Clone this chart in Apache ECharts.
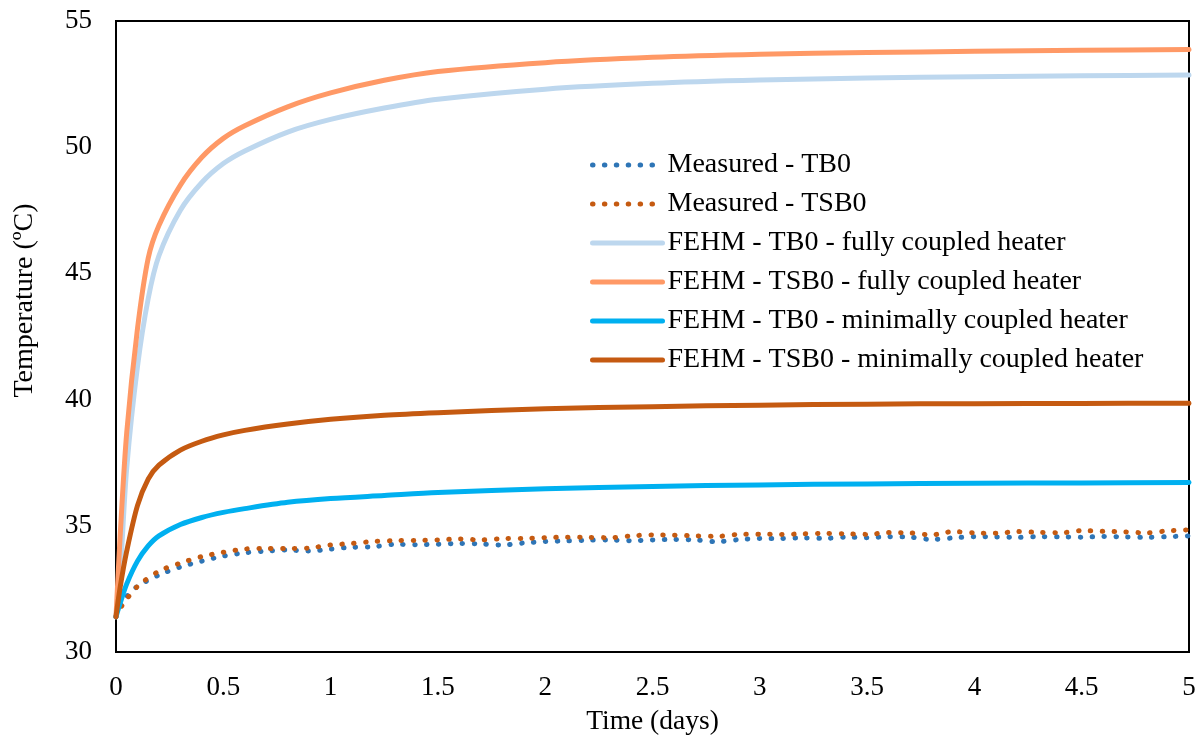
<!DOCTYPE html>
<html>
<head>
<meta charset="utf-8">
<script src="https://cdn.jsdelivr.net/npm/echarts@6/dist/echarts.min.js"></script>
<style>
html,body{margin:0;padding:0;background:#fff;}
#chart{width:1200px;height:740px;}
</style>
</head>
<body>
<div id="chart"></div>
<script>
// ---- data ----
const modelTime = [0, 0.02, 0.05, 0.1, 0.15, 0.2, 0.3, 0.4, 0.5, 0.6, 0.8, 1.0, 1.25, 1.5, 2.0, 2.5, 3.0, 3.5, 4.0, 4.5, 5.0];
const fehmTB0Full = [31.4, 33.2, 37.3, 41.3, 44.0, 45.7, 47.5, 48.6, 49.35, 49.85, 50.6, 51.1, 51.55, 51.9, 52.3, 52.53, 52.66, 52.74, 52.79, 52.83, 52.86];
const fehmTSB0Full = [31.4, 34.7, 38.7, 42.8, 45.6, 46.9, 48.5, 49.6, 50.35, 50.85, 51.6, 52.15, 52.65, 53.0, 53.35, 53.56, 53.68, 53.75, 53.8, 53.84, 53.87];
const fehmTB0Min = [31.4, 31.95, 32.7, 33.6, 34.2, 34.6, 35.05, 35.33, 35.53, 35.68, 35.93, 36.08, 36.2, 36.32, 36.47, 36.56, 36.62, 36.66, 36.69, 36.7, 36.72];
const fehmTSB0Min = [31.4, 32.6, 34.0, 35.8, 36.85, 37.4, 38.0, 38.35, 38.6, 38.78, 39.03, 39.22, 39.38, 39.48, 39.64, 39.72, 39.78, 39.82, 39.84, 39.85, 39.86];

const measTime = [0, 0.025, 0.05, 0.1, 0.2, 0.3, 0.4, 0.5, 0.6, 0.7, 0.8, 0.9, 1.0, 1.1, 1.2, 1.3, 1.4, 1.5, 1.6, 1.7, 1.8, 1.9, 2.0, 2.1, 2.2, 2.3, 2.4, 2.5, 2.6, 2.7, 2.8, 2.9, 3.0, 3.1, 3.2, 3.3, 3.4, 3.5, 3.6, 3.7, 3.8, 3.9, 4.0, 4.1, 4.2, 4.3, 4.4, 4.5, 4.6, 4.7, 4.8, 4.9, 5.0];
const measTB0 = [31.4, 31.9, 32.2, 32.6, 33.05, 33.37, 33.6, 33.8, 33.93, 34.0, 34.04, 34.0, 34.08, 34.15, 34.17, 34.27, 34.25, 34.27, 34.3, 34.28, 34.24, 34.32, 34.38, 34.4, 34.43, 34.44, 34.41, 34.44, 34.46, 34.44, 34.37, 34.45, 34.5, 34.5, 34.52, 34.5, 34.55, 34.53, 34.57, 34.55, 34.46, 34.52, 34.57, 34.56, 34.54, 34.57, 34.56, 34.55, 34.58, 34.56, 34.54, 34.57, 34.6];
const measTSB0 = [31.4, 31.8, 32.1, 32.6, 33.2, 33.52, 33.78, 33.95, 34.08, 34.1, 34.1, 34.12, 34.24, 34.3, 34.38, 34.41, 34.42, 34.44, 34.48, 34.44, 34.49, 34.5, 34.53, 34.55, 34.54, 34.53, 34.6, 34.64, 34.63, 34.6, 34.58, 34.66, 34.67, 34.66, 34.68, 34.7, 34.68, 34.66, 34.73, 34.72, 34.64, 34.77, 34.72, 34.7, 34.77, 34.74, 34.72, 34.81, 34.78, 34.76, 34.72, 34.8, 34.84];

const seriesNames = [
  'Measured - TB0',
  'Measured - TSB0',
  'FEHM - TB0 - fully coupled heater',
  'FEHM - TSB0 - fully coupled heater',
  'FEHM - TB0 - minimally coupled heater',
  'FEHM - TSB0 - minimally coupled heater'
];
const xTitle = 'Time (days)';
const yTitle = 'Temperature (ºC)';

// ---- chart ----
const pair = (xs, ys) => xs.map((x, i) => [x, ys[i]]);
const FONT = 'Liberation Serif, Times New Roman, serif';

function lineSeries(name, xs, ys, color, dotted) {
  return {
    name: name,
    type: 'line',
    data: pair(xs, ys),
    showSymbol: false,
    symbol: 'none',
    smooth: 0.3,
    animation: false,
    lineStyle: dotted
      ? { color: color, width: 5, type: [0.5, 11.4], cap: 'round' }
      : { color: color, width: 5, cap: 'round' },
    itemStyle: { color: color }
  };
}

const chart = echarts.init(document.getElementById('chart'), null, { renderer: 'canvas' });
chart.setOption({
  backgroundColor: '#ffffff',
  animation: false,
  grid: { left: 116, top: 21, right: 11, bottom: 88, outerBoundsMode: 'none', containLabel: false, show: true, borderColor: '#000', borderWidth: 2, backgroundColor: 'transparent' },
  legend: {
    orient: 'vertical',
    left: 585,
    top: 146,
    itemWidth: 70,
    itemHeight: 5,
    itemGap: 11,
    itemStyle: { opacity: 0 },
    lineStyle: { width: 5, cap: 'round' },
    textStyle: { fontFamily: FONT, fontSize: 28, color: '#000', lineHeight: 28 },
    data: seriesNames
  },
  xAxis: {
    type: 'value',
    min: 0, max: 5, interval: 0.5,
    name: xTitle,
    nameLocation: 'middle',
    nameGap: 56,
    nameTextStyle: { fontFamily: FONT, fontSize: 27.5, color: '#000' },
    axisLine: { show: true, lineStyle: { color: '#000', width: 2 } },
    axisTick: { show: false },
    splitLine: { show: false },
    axisLabel: { fontFamily: FONT, fontSize: 27, color: '#000', margin: 22 }
  },
  yAxis: {
    type: 'value',
    min: 30, max: 55, interval: 5,
    name: yTitle,
    nameLocation: 'middle',
    nameGap: 77,
    nameTextStyle: { fontFamily: FONT, fontSize: 28, color: '#000', padding: [0, 0, 0, 72] },
    axisLine: { show: true, lineStyle: { color: '#000', width: 2 } },
    axisTick: { show: false },
    splitLine: { show: false },
    axisLabel: { fontFamily: FONT, fontSize: 27, color: '#000', margin: 24 }
  },
  series: [
    lineSeries(seriesNames[0], measTime, measTB0, '#2E75B6', true),
    lineSeries(seriesNames[1], measTime, measTSB0, '#C55A11', true),
    lineSeries(seriesNames[2], modelTime, fehmTB0Full, '#BDD7EE', false),
    lineSeries(seriesNames[3], modelTime, fehmTSB0Full, '#FF9966', false),
    lineSeries(seriesNames[4], modelTime, fehmTB0Min, '#00B0F0', false),
    lineSeries(seriesNames[5], modelTime, fehmTSB0Min, '#C55A11', false)
  ]
});
</script>
</body>
</html>
